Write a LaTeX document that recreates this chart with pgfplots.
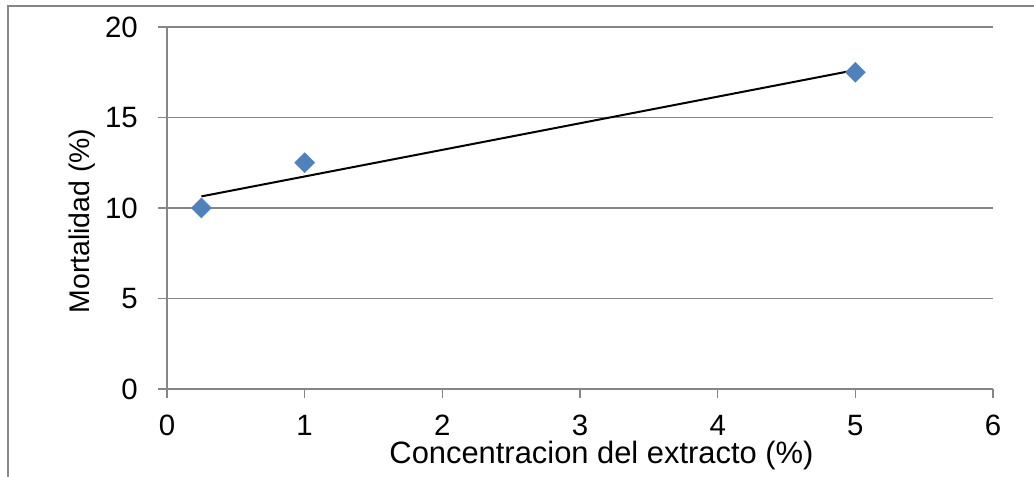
\documentclass[border=0pt]{standalone}
\usepackage{pgfplots}
\pgfplotsset{compat=1.18}
\usepackage{fontspec}
\setmainfont{Liberation Sans}
\definecolor{gridgray}{HTML}{868686}
\definecolor{mblue}{HTML}{4F81BD}
\begin{document}
\begin{tikzpicture}[x=1bp,y=1bp]
\useasboundingbox (0,0) rectangle (1034,477);
\draw[gridgray, line width=1.3bp] (8,-5) -- (8,471) -- (1040,471);
\begin{axis}[
  at={(167bp,88bp)}, anchor=south west,
  scale only axis, width=826bp, height=362bp,
  xmin=0, xmax=6, ymin=0, ymax=20,
  xtick={0,1,2,3,4,5,6}, ytick={0,5,10,15,20},
  axis lines*=left,
  ymajorgrids,
  grid style={gridgray, line width=1.3bp},
  axis line style={gridgray, line width=1.3bp},
  tick align=outside,
  major tick length=9bp,
  tick style={gridgray, line width=1.3bp},
  /pgf/number format/assume math mode=true,
  ticklabel style={font=\fontsize{29.5}{32}\selectfont, inner sep=0pt},
  yticklabel style={anchor=east, xshift=-20bp},
  xticklabel style={anchor=north, yshift=-17bp},
  xlabel={Concentracion del extracto (\%)},
  ylabel={Mortalidad (\%)},
  xlabel style={font=\fontsize{31}{34}\selectfont, inner sep=0pt, at={(axis description cs:0.526,-0.207)}, anchor=base},
  ylabel style={font=\fontsize{28.5}{32}\selectfont, inner sep=0pt, at={(axis description cs:-0.0944,0.464)}, anchor=base},
  clip=false,
]
\addplot[only marks, mark=square*, mark size=7.1bp, mark options={rotate=45, fill=mblue, draw=mblue}] coordinates {(0.25,10) (1,12.5) (5,17.5)};
\addplot[black, line width=2bp] coordinates {(0.25,10.64) (5,17.62)};
\end{axis}
\end{tikzpicture}
\end{document}
